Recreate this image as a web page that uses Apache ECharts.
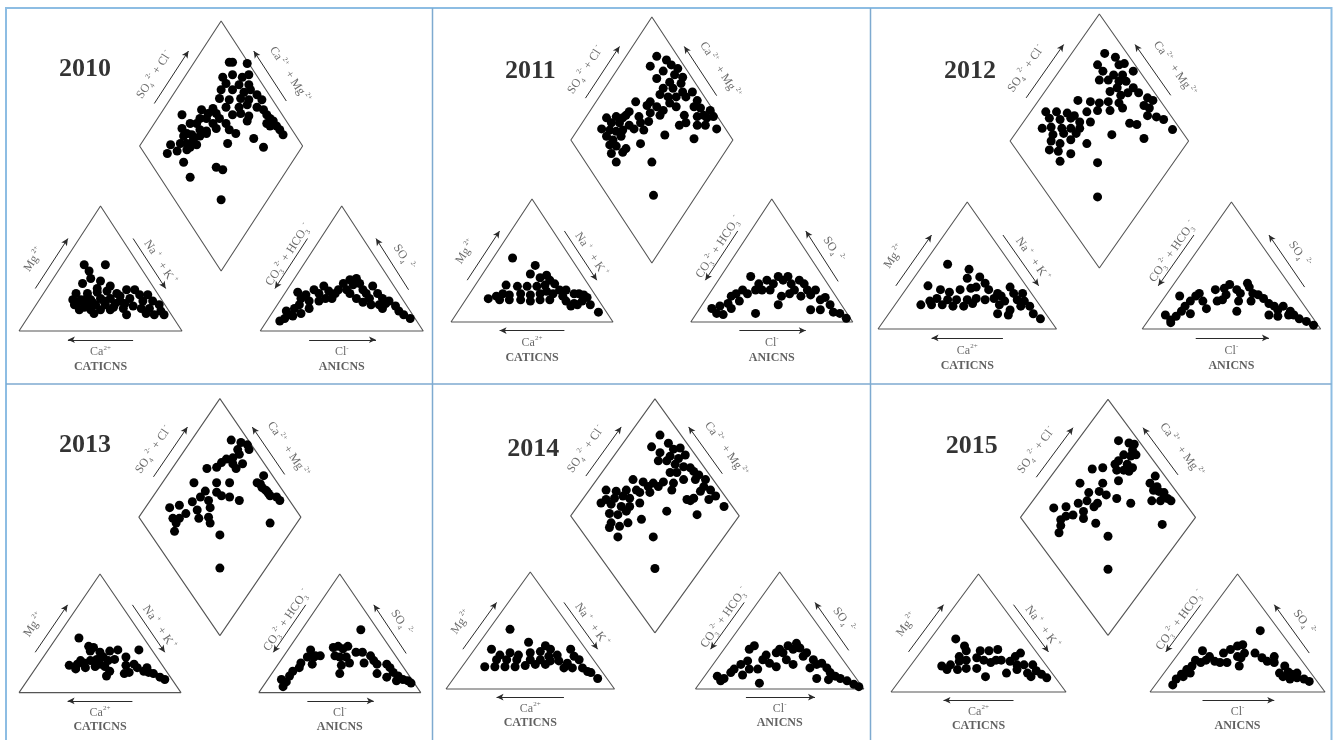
<!DOCTYPE html>
<html>
<head>
<meta charset="utf-8">
<script src="https://cdn.jsdelivr.net/npm/echarts@6/dist/echarts.min.js"></script>
<style>
  html, body { margin: 0; padding: 0; background: #fff; }
  #main { width: 1333px; height: 740px; }
</style>
</head>
<body>
<div id="main"></div>
<script>
var years = ['2010', '2011', '2012', '2013', '2014', '2015'];

// central diamond, in piper plane units (triangle side = 100, triangle height = 100)
var diamond2010 = [[129,215],[131,215],[140,214],[125,203],[131,205],[137,203],[141,205],[127,198],[135,197],[141,197],[124,193],[131,193],[138,191],[142,193],[123,186],[129,185],[136,186],[141,185],[146,189],[149,185],[119,178],[127,179],[135,179],[140,181],[146,179],[150,177],[112,177],[116,174],[121,174],[111,170],[115,170],[123,170],[131,173],[136,174],[141,172],[152,173],[154,170],[100,173],[105,166],[109,166],[119,166],[127,166],[152,166],[156,168],[100,162],[103,158],[111,161],[115,160],[121,162],[129,161],[140,168],[154,164],[158,164],[160,161],[101,156],[106,157],[111,156],[115,158],[133,158],[162,157],[93,149],[99,150],[103,150],[107,153],[109,149],[128,150],[144,154],[150,147],[91,142],[97,144],[103,145],[105,147],[101,135],[121,131],[125,129],[105,123],[124,105]];
var diamond2011 = [[127,216],[123,208],[133,213],[136,209],[140,206],[131,204],[138,201],[143,199],[127,198],[135,195],[142,194],[131,190],[137,190],[143,187],[149,187],[129,185],[134,183],[139,183],[145,183],[152,180],[123,179],[135,178],[114,179],[121,176],[127,175],[131,172],[139,175],[150,175],[154,174],[156,168],[160,172],[110,171],[116,167],[123,170],[129,168],[144,168],[152,167],[158,166],[162,167],[96,166],[102,167],[106,166],[108,168],[99,162],[104,162],[110,160],[117,162],[122,163],[141,160],[145,162],[152,160],[157,160],[164,157],[93,157],[98,156],[102,155],[106,156],[113,157],[119,156],[132,152],[150,149],[96,151],[100,148],[105,151],[117,145],[98,144],[102,143],[106,138],[108,141],[99,137],[102,130],[124,130],[125,103]];
var diamond2012 = [[127,217],[123,208],[133,214],[135,208],[138,209],[143,203],[126,203],[132,200],[137,200],[124,196],[129,196],[135,195],[139,195],[134,190],[143,190],[146,186],[130,187],[136,184],[140,186],[151,182],[112,180],[119,179],[124,178],[129,179],[135,178],[137,174],[130,172],[149,176],[152,174],[154,180],[94,171],[100,171],[106,170],[110,168],[117,171],[123,172],[151,168],[156,167],[160,165],[96,166],[102,165],[108,166],[113,163],[119,163],[141,162],[145,161],[92,158],[97,159],[103,158],[108,158],[113,158],[165,157],[98,153],[104,154],[111,154],[131,153],[149,150],[97,148],[102,146],[108,149],[117,146],[96,141],[101,140],[108,138],[102,132],[123,131],[123,104]];
var diamond2013 = [[131,213],[137,211],[141,209],[135,205],[136,201],[142,205],[132,198],[128,197],[125,194],[132,193],[134,189],[116,189],[122,190],[138,193],[151,183],[147,177],[150,173],[153,170],[155,166],[159,165],[161,162],[149,176],[154,168],[152,171],[108,177],[115,170],[122,177],[130,177],[122,169],[125,166],[130,165],[136,162],[112,165],[117,162],[107,161],[99,158],[93,156],[118,156],[110,154],[103,151],[95,147],[99,147],[111,147],[117,148],[97,143],[118,143],[96,136],[155,143],[124,133],[124,105]];
var diamond2014 = [[127,217],[122,207],[132,210],[135,205],[139,206],[142,200],[127,202],[133,199],[138,197],[126,195],[131,195],[136,192],[141,190],[145,189],[137,185],[147,186],[150,183],[133,185],[141,179],[148,179],[154,179],[111,179],[117,177],[123,176],[129,177],[135,176],[134,170],[153,173],[157,170],[160,165],[95,170],[101,169],[107,170],[113,170],[120,173],[126,173],[95,162],[100,163],[105,165],[109,163],[115,168],[121,168],[145,161],[147,163],[156,162],[165,156],[92,159],[98,158],[104,156],[109,156],[115,159],[131,152],[149,149],[97,150],[102,149],[107,152],[116,145],[98,142],[103,139],[108,142],[97,138],[102,130],[123,130],[124,103],[143,162],[151,169]];
var diamond2015 = [[130,213],[136,211],[139,210],[138,205],[133,201],[137,200],[140,201],[130,196],[128,193],[135,193],[133,188],[138,190],[115,189],[121,190],[129,188],[136,187],[151,183],[148,177],[150,171],[153,170],[156,169],[158,164],[160,162],[149,162],[154,162],[108,177],[113,169],[121,177],[130,179],[119,170],[123,167],[129,164],[137,160],[112,162],[118,160],[107,160],[100,157],[93,156],[116,157],[110,153],[104,150],[97,146],[100,149],[110,147],[117,143],[97,141],[96,135],[155,142],[124,132],[124,104],[156,166],[152,174]];

// cation triangle, local units: [position along base, height]
var cation2010 = [[40,53],[53,53],[43,48],[44,42],[39,38],[50,40],[56,36],[48,34],[35,30],[42,30],[48,31],[54,32],[60,30],[66,33],[71,33],[33,25],[38,25],[44,25],[50,26],[56,26],[62,28],[68,26],[74,29],[79,29],[34,21],[41,21],[47,21],[53,21],[59,22],[65,22],[76,24],[82,24],[86,21],[37,17],[44,17],[50,17],[56,17],[70,20],[75,18],[80,18],[87,16],[46,14],[66,13],[78,14],[89,13],[83,13],[36,23],[40,19],[45,23],[52,24],[58,19],[62,24],[42,27],[64,18]];
var cation2011 = [[38,52],[52,46],[49,39],[55,36],[59,38],[61,34],[34,30],[41,29],[47,29],[53,29],[58,30],[64,31],[67,26],[71,26],[23,19],[28,21],[32,23],[36,22],[43,23],[49,22],[55,23],[59,25],[63,23],[69,21],[76,23],[79,23],[82,22],[30,18],[36,18],[43,18],[49,17],[55,18],[61,18],[71,17],[76,15],[81,17],[84,20],[86,14],[91,8],[74,13],[78,14]];
var cation2012 = [[39,51],[51,47],[50,40],[57,41],[28,34],[35,31],[40,29],[46,31],[52,32],[55,33],[60,36],[62,31],[67,28],[69,26],[74,33],[76,28],[81,28],[24,19],[29,22],[33,24],[39,23],[44,23],[50,23],[55,24],[60,23],[65,24],[71,22],[78,23],[82,22],[85,18],[30,19],[36,19],[42,18],[48,18],[53,20],[68,19],[74,15],[80,18],[87,12],[91,8],[73,11],[67,12]];
var cation2013 = [[37,46],[43,39],[46,38],[44,35],[50,34],[56,35],[61,36],[66,30],[74,36],[31,23],[36,24],[40,25],[44,27],[48,28],[52,30],[55,27],[59,28],[35,20],[41,21],[47,22],[53,22],[56,18],[54,14],[66,23],[71,24],[73,21],[77,18],[80,17],[83,16],[87,13],[68,17],[65,16],[79,21],[90,11],[38,27],[50,24]];
var cation2014 = [[38,51],[49,40],[27,34],[32,29],[38,31],[43,29],[50,31],[56,32],[59,37],[62,34],[50,25],[56,25],[61,28],[66,29],[74,34],[76,28],[79,25],[30,25],[36,25],[42,25],[23,19],[29,19],[35,19],[41,19],[47,20],[53,21],[59,21],[67,24],[72,22],[75,18],[81,18],[84,15],[86,14],[90,9],[70,18],[62,24]];
var cation2015 = [[37,45],[42,39],[43,35],[51,35],[56,35],[61,36],[71,30],[74,33],[63,27],[68,26],[72,23],[76,23],[81,23],[83,18],[86,15],[89,12],[78,16],[72,19],[66,16],[80,13],[29,22],[34,23],[39,26],[43,27],[49,29],[53,27],[57,25],[32,19],[38,19],[43,20],[49,20],[54,13],[60,27],[39,30]];

// anion triangle, same local units
var anion2010 = [[12,8],[15,10],[18,13],[16,16],[21,18],[24,21],[23,31],[25,26],[28,29],[30,24],[33,33],[36,30],[39,36],[42,32],[44,26],[48,33],[51,38],[55,41],[57,37],[59,42],[61,38],[63,33],[65,30],[67,26],[69,36],[72,30],[75,26],[77,22],[79,24],[83,20],[85,16],[88,13],[92,10],[55,30],[59,26],[63,23],[68,21],[75,18],[73,21],[46,30],[53,33],[36,24],[30,18],[20,12],[25,14],[40,26]];
var anion2011 = [[13,11],[16,7],[20,6],[18,13],[23,15],[25,21],[28,23],[32,26],[35,23],[37,37],[40,26],[42,31],[44,26],[47,34],[49,26],[51,31],[54,37],[56,21],[57,34],[60,37],[62,31],[64,26],[67,34],[70,31],[72,26],[74,22],[77,26],[80,18],[83,20],[86,14],[88,8],[92,7],[96,3],[74,10],[80,10],[40,7],[30,17],[25,11],[61,23],[68,21],[54,14]];
var anion2012 = [[13,11],[16,7],[16,5],[19,10],[22,14],[24,18],[27,22],[21,26],[30,26],[32,28],[34,22],[36,16],[41,31],[46,32],[49,35],[53,31],[55,28],[54,22],[59,36],[60,33],[62,28],[65,27],[68,24],[71,20],[74,18],[76,15],[79,18],[82,11],[85,11],[88,8],[92,6],[96,3],[71,11],[76,10],[83,14],[42,22],[27,12],[53,14],[45,23],[61,22],[47,27]];
var anion2013 = [[63,53],[15,5],[17,9],[14,11],[19,14],[21,18],[25,21],[26,25],[30,30],[32,36],[35,31],[38,31],[46,38],[49,39],[52,37],[55,39],[47,31],[50,30],[54,30],[56,25],[51,23],[50,16],[60,34],[64,34],[69,31],[71,27],[73,24],[79,24],[81,21],[83,17],[86,14],[89,11],[92,10],[73,16],[79,13],[85,10],[94,8],[65,25],[34,30],[33,24]];
var anion2014 = [[13,11],[15,7],[17,9],[21,14],[23,17],[27,21],[31,24],[32,34],[35,37],[37,17],[38,5],[40,25],[42,29],[48,31],[50,34],[52,31],[55,37],[58,34],[60,39],[62,35],[64,28],[66,31],[70,25],[72,21],[75,22],[78,18],[80,14],[83,11],[86,9],[90,7],[94,4],[97,2],[72,9],[79,8],[48,19],[54,25],[44,22],[28,12],[32,17],[58,21],[68,18]];
var anion2015 = [[63,52],[13,6],[15,11],[18,15],[21,19],[24,22],[26,27],[30,35],[34,30],[37,26],[40,25],[42,33],[46,36],[50,39],[53,40],[50,30],[52,29],[51,22],[54,33],[60,33],[64,29],[67,26],[71,30],[71,25],[77,22],[79,17],[81,15],[84,12],[88,11],[91,9],[76,13],[80,11],[74,16],[84,16],[19,13],[29,25],[23,16],[32,27],[44,25]];

var diamonds = [diamond2010, diamond2011, diamond2012, diamond2013, diamond2014, diamond2015];
var cations = [cation2010, cation2011, cation2012, cation2013, cation2014, cation2015];
var anions = [anion2010, anion2011, anion2012, anion2013, anion2014, anion2015];

// panel placement: left of cation base, base line, triangle side and height (px)
var panels = [
  { x: 19,  base: 331, side: 163,   h: 125,   year: [40.5, 209] },
  { x: 451, base: 322, side: 162,   h: 123,   year: [49, 203.5] },
  { x: 878, base: 329, side: 178.5, h: 127,   year: [51.5, 202.6] },
  { x: 19,  base: 695, side: 162,   h: 119.5, year: [40.7, 208.6] },
  { x: 446, base: 689, side: 168.5, h: 117,   year: [51.8, 204.5] },
  { x: 891, base: 692, side: 175,   h: 118,   year: [46.1, 208.2] }
];

var GAP = 148; // anion triangle starts here
var XMIN = -10, XMAX = 250, YMIN = -40, YMAX = 252;

function shift(pts, dx) {
  return pts.map(function (p) { return [p[0] + dx, p[1]]; });
}

var cationFrame = [[0, 0], [100, 0], [50, 100], [0, 0]];
var anionFrame = shift(cationFrame, GAP);
var diamondFrame = [[124, 48], [174, 148], [124, 248], [74, 148], [124, 48]];

var serif = "'Liberation Serif', 'DejaVu Serif', serif";
var RICH = {
  t: { fontFamily: serif, fontSize: 12, color: '#444', lineHeight: 16 },
  p: { fontFamily: serif, fontSize: 7, color: '#444', lineHeight: 9, verticalAlign: 'top' },
  s: { fontFamily: serif, fontSize: 7, color: '#444', lineHeight: 9, verticalAlign: 'bottom' },
  b: { fontFamily: serif, fontSize: 12, fontWeight: 'bold', color: '#3a3a3a' },
  y: { fontFamily: serif, fontSize: 26, fontWeight: 'bold', color: '#000' }
};

function arrowLines(list, dx) {
  return list.map(function (a) {
    return [{ coord: [a[0][0] + dx, a[0][1]] }, { coord: [a[1][0] + dx, a[1][1]] }];
  });
}

var option = {
  animation: false,
  backgroundColor: '#fff',
  grid: [], xAxis: [], yAxis: [], series: [],
  graphic: [
    { type: 'rect', silent: true, shape: { x: 6, y: 8, width: 1325.5, height: 740 },
      style: { fill: 'rgba(0,0,0,0)', stroke: '#8dbde3', lineWidth: 2 } },
    { type: 'line', silent: true, shape: { x1: 432.5, y1: 8, x2: 432.5, y2: 740 },
      style: { stroke: '#7eaad0', lineWidth: 1.5 } },
    { type: 'line', silent: true, shape: { x1: 870.5, y1: 8, x2: 870.5, y2: 740 },
      style: { stroke: '#7eaad0', lineWidth: 1.5 } },
    { type: 'line', silent: true, shape: { x1: 6, y1: 384, x2: 1331.5, y2: 384 },
      style: { stroke: '#7eaad0', lineWidth: 1.5 } }
  ]
};

panels.forEach(function (p, i) {
  var sx = p.side / 100, sy = p.h / 100;
  option.grid.push({
    left: p.x + XMIN * sx, top: p.base - YMAX * sy,
    width: (XMAX - XMIN) * sx, height: (YMAX - YMIN) * sy
  });
  option.xAxis.push({ type: 'value', gridIndex: i, min: XMIN, max: XMAX, show: false });
  option.yAxis.push({ type: 'value', gridIndex: i, min: YMIN, max: YMAX, show: false });

  var ang = Math.atan2(p.h, p.side / 2) * 180 / Math.PI;
  var arrowStyle = {
    silent: true, symbol: ['none', 'arrow'], symbolSize: [5, 7],
    label: { show: false }, lineStyle: { color: '#2a2a2a', width: 1, type: 'solid' },
    emphasis: { disabled: true }
  };

  function frame(data, arrows) {
    return {
      type: 'line', xAxisIndex: i, yAxisIndex: i, silent: true, data: data,
      showSymbol: false, symbol: 'none', z: 2,
      lineStyle: { color: '#555', width: 1.1 },
      markLine: Object.assign({ data: arrows }, arrowStyle)
    };
  }

  option.series.push(frame(cationFrame, arrowLines([
    [[10, 34], [30, 74]], [[70, 74], [90, 34]], [[70, -7], [30, -7]]
  ], 0)));
  option.series.push(frame(anionFrame, arrowLines([
    [[29, 74], [9, 34]], [[91, 33], [71, 74]], [[30, -7], [71, -7]]
  ], GAP)));
  option.series.push(frame(diamondFrame, arrowLines([
    [[83, 182], [104, 224]], [[164, 184], [144, 224]]
  ], 0)));

  var dots = { type: 'scatter', xAxisIndex: i, yAxisIndex: i, silent: true,
    symbol: 'circle', symbolSize: 9, itemStyle: { color: '#000', opacity: 1 }, z: 3 };
  option.series.push(Object.assign({ data: diamonds[i] }, dots));
  option.series.push(Object.assign({ data: cations[i] }, dots));
  option.series.push(Object.assign({ data: shift(anions[i], GAP) }, dots));

  function txt(x, y, f, rot) {
    return { value: [x, y], label: { formatter: f, rotate: rot || 0 } };
  }
  option.series.push({
    type: 'scatter', xAxisIndex: i, yAxisIndex: i, silent: true, z: 4,
    symbol: 'circle', symbolSize: 1, itemStyle: { color: 'rgba(0,0,0,0)' },
    label: { show: true, position: 'inside', color: '#444', textBorderWidth: 0, rich: RICH },
    data: [
      { value: p.year, label: { formatter: '{y|' + years[i] + '}', color: '#000' } },
      txt(9, 57, '{t|Mg}{p| 2+}', ang),
      txt(86.5, 55, '{t|Na}{p| +}{t|  + K}{p| +}', -ang),
      txt(50, -17, '{t|Ca}{p|2+}'),
      txt(50, -29, '{b|CATICNS}'),
      txt(GAP + 17, 61, '{t|CO}{s|3}{p|2-}{t| + HCO}{s|3}{p| -}', ang),
      txt(GAP + 88, 59, '{t|SO}{s|4}{p|  2-}', -ang),
      txt(GAP + 50, -17, '{t|Cl}{p|-}'),
      txt(GAP + 50, -29, '{b|ANICNS}'),
      txt(83, 205, '{t|SO}{s|4}{p| 2-}{t| + Cl}{p| -}', ang),
      txt(166, 205, '{t|Ca}{p| 2+}{t|  + Mg}{p| 2+}', -ang)
    ]
  });
});

var chart = echarts.init(document.getElementById('main'));
chart.setOption(option);
</script>
</body>
</html>
